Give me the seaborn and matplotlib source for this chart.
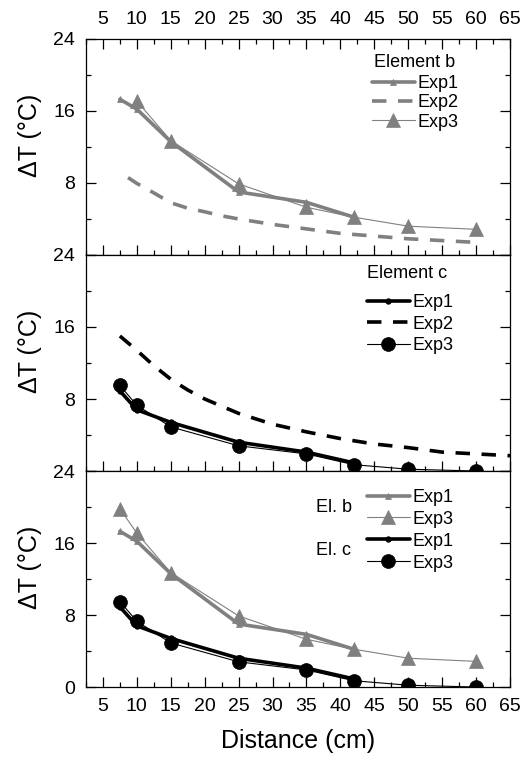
import matplotlib
matplotlib.use("Agg")
import matplotlib.pyplot as plt
from matplotlib.ticker import MultipleLocator
import seaborn as sns

sns.set_theme(style="ticks", rc={
    "axes.edgecolor": "black",
    "axes.linewidth": 0.9,
    "xtick.color": "black",
    "ytick.color": "black",
    "text.color": "black",
    "axes.labelcolor": "black",
})
plt.rcParams["font.family"] = ["Liberation Sans", "DejaVu Sans"]

# Distances of the measurement points (cm)
dist = [7.5, 10, 15, 25, 35, 42, 50, 60]
dist_exp1 = [7.5, 10, 15, 25, 35, 42]

# Element b
b_exp1 = [17.3, 16.2, 12.6, 7.0, 5.85, 4.2]
b_exp3 = [19.8, 17.1, 12.7, 7.9, 5.3, 4.2, 3.2, 2.85]
b_exp2_x = [8.7, 10, 12.5, 15, 17.5, 20, 22.5, 25, 30, 35, 40, 45, 50, 55, 60]
b_exp2 = [8.6, 7.95, 6.9, 5.8, 5.2, 4.8, 4.35, 4.0, 3.4, 2.9, 2.4, 2.1, 1.8, 1.6, 1.4]

# Element c
c_exp1 = [8.9, 6.8, 5.4, 3.2, 2.1, 0.9]
c_exp3 = [9.5, 7.3, 4.9, 2.8, 1.9, 0.7, 0.2, 0.0]
c_exp2_x = [7.5, 10, 12.5, 15, 17.5, 20, 25, 30, 35, 40, 45, 50, 55, 60, 65]
c_exp2 = [15.0, 13.4, 11.7, 10.2, 9.0, 8.0, 6.4, 5.2, 4.35, 3.6, 3.0, 2.6, 2.1, 1.9, 1.7]

x_ticks = [5, 10, 15, 20, 25, 30, 35, 40, 45, 50, 55, 60, 65]
y_ticks = [0, 8, 16, 24]

GRAY = "#808080"
BLACK = "#000000"
TICK_FS = 14
LABEL_FS = 18
LEG_FS = 13


def exp1_line(ax, x, y, color, marker, label):
    sns.lineplot(x=x, y=y, ax=ax, color=color, lw=2.6, marker=marker,
                 markersize=4, markeredgecolor=color, markerfacecolor=color,
                 markeredgewidth=0.5, label=label, zorder=3)


def exp2_line(ax, x, y, color, label):
    sns.lineplot(x=x, y=y, ax=ax, color=color, lw=2.6,
                 linestyle=(0, (4.0, 3.2)), label=label, zorder=2)


def exp3_line(ax, x, y, color, marker, label):
    sns.lineplot(x=x, y=y, ax=ax, color=color, lw=0.8, marker=marker,
                 markersize=10, markeredgecolor=color, markerfacecolor=color,
                 markeredgewidth=0.5, label=label, zorder=4)


fig, axes = plt.subplots(3, 1, sharex=True, figsize=(5.23, 7.61), dpi=100)
fig.subplots_adjust(left=0.1644, right=0.9751, top=0.9488, bottom=0.0972, hspace=0)
ax_b, ax_c, ax_bc = axes

# Panel 1: element b
exp1_line(ax_b, dist_exp1, b_exp1, GRAY, "^", "Exp1")
exp2_line(ax_b, b_exp2_x, b_exp2, GRAY, "Exp2")
exp3_line(ax_b, dist[1:], b_exp3[1:], GRAY, "^", "Exp3")

# Panel 2: element c
exp1_line(ax_c, dist_exp1, c_exp1, BLACK, "o", "Exp1")
exp2_line(ax_c, c_exp2_x, c_exp2, BLACK, "Exp2")
exp3_line(ax_c, dist, c_exp3, BLACK, "o", "Exp3")

# Panel 3: both elements
exp1_line(ax_bc, dist_exp1, b_exp1, GRAY, "^", "Exp1")
exp3_line(ax_bc, dist, b_exp3, GRAY, "^", "Exp3")
exp1_line(ax_bc, dist_exp1, c_exp1, BLACK, "o", "Exp1")
exp3_line(ax_bc, dist, c_exp3, BLACK, "o", "Exp3")

for i, ax in enumerate(axes):
    ax.set_xlim(2.5, 65)
    ax.set_ylim(0, 24)
    ax.set_xticks(x_ticks)
    ax.set_yticks(y_ticks)
    ax.xaxis.set_minor_locator(MultipleLocator(2.5))
    ax.yaxis.set_minor_locator(MultipleLocator(4))
    ax.tick_params(axis="both", which="both", direction="in", width=0.9,
                   labelsize=TICK_FS, right=True, top=(i == 0))
    ax.tick_params(axis="both", which="major", length=7, pad=8)
    ax.tick_params(axis="both", which="minor", length=3.5)
    if i < 2:
        ax.set_yticklabels(["", "8", "16", "24"])
    else:
        ax.set_yticklabels(["0", "8", "16", "24"])
    ax.set_ylabel("ΔT (°C)", fontsize=LABEL_FS)
    ax.yaxis.set_label_coords(-0.104, 0.555)
    ax.set_xlabel("")
    if ax.get_legend() is not None:
        ax.get_legend().remove()

ax_b.tick_params(axis="x", which="both", labeltop=True, labelbottom=False)
ax_bc.set_xlabel("Distance (cm)", fontsize=LABEL_FS, labelpad=10)

leg_kw = dict(frameon=False, fontsize=LEG_FS, handlelength=2.35,
              handletextpad=0.15, borderpad=0, borderaxespad=0,
              loc="upper left")

h, l = ax_b.get_legend_handles_labels()
ax_b.legend(h, l, labelspacing=0.12, bbox_to_anchor=(0.675, 0.832), **leg_kw)
ax_b.text(0.679, 0.893, "Element b", transform=ax_b.transAxes,
          fontsize=LEG_FS, ha="left", va="center")

h, l = ax_c.get_legend_handles_labels()
ax_c.legend(h, l, labelspacing=0.25, bbox_to_anchor=(0.663, 0.819), **leg_kw)
ax_c.text(0.663, 0.912, "Element c", transform=ax_c.transAxes,
          fontsize=LEG_FS, ha="left", va="center")

h, l = ax_bc.get_legend_handles_labels()
ax_bc.legend(h, l, labelspacing=0.27, bbox_to_anchor=(0.663, 0.917), **leg_kw)
ax_bc.text(0.542, 0.833, "El. b", transform=ax_bc.transAxes, fontsize=LEG_FS,
           va="center", ha="left")
ax_bc.text(0.542, 0.634, "El. c", transform=ax_bc.transAxes, fontsize=LEG_FS,
           va="center", ha="left")

fig.savefig("out.png", dpi=100)
